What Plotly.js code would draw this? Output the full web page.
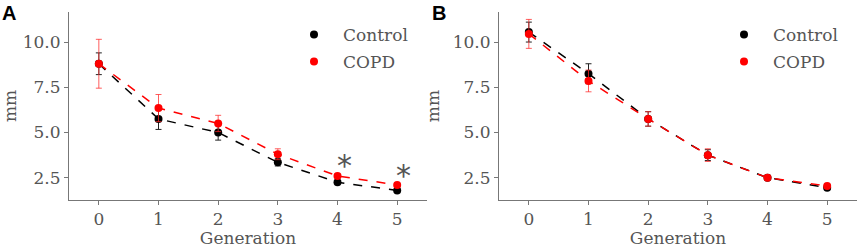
<!DOCTYPE html>
<html>
<head>
<meta charset="utf-8">
<script src="https://cdn.plot.ly/plotly-3.0.1.min.js"></script>
<style>html,body{margin:0;padding:0;background:#fff;}#chart{width:858px;height:248px;}</style>
</head>
<body>
<div id="chart"></div>
<script>
const generations = [0, 1, 2, 3, 4, 5];
// Panel A
const aControl = [8.8, 5.75, 5.0, 3.35, 2.25, 1.8];
const aControlErr = [0.6, 0.58, 0.42, 0.2, 0.1, 0.08];
const aCopd = [8.8, 6.35, 5.5, 3.8, 2.6, 2.1];
const aCopdErr = [1.35, 0.75, 0.45, 0.3, 0.12, 0.1];
// Panel B
const bControl = [10.55, 8.25, 5.75, 3.75, 2.5, 1.95];
const bControlErr = [0.55, 0.55, 0.4, 0.3, 0.1, 0.08];
const bCopd = [10.45, 7.85, 5.75, 3.75, 2.5, 2.05];
const bCopdErr = [0.8, 0.6, 0.4, 0.35, 0.1, 0.08];
const seriesNames = ['Control', 'COPD'];
const starGens = [4, 5];
const starVals = [3.15, 2.65];

const txt = '#555555';
const font = {family: 'DejaVu Serif', size: 17, color: txt};

function pair(xa, ya, y, err, color, errColor, name, legend) {
  return [
    {x: generations, y: y, xaxis: xa, yaxis: ya, mode: 'lines', showlegend: false,
     line: {color: color, width: 1.5, dash: 'dash'}, hoverinfo: 'skip'},
    {x: generations, y: y, xaxis: xa, yaxis: ya, mode: 'markers', name: name, legend: legend,
     marker: {color: color, size: 8},
     error_y: {type: 'data', array: err, visible: true, color: errColor, thickness: 1, width: 3}}
  ];
}

const data = [].concat(
  pair('x', 'y', aControl, aControlErr, '#000000', '#222222', seriesNames[0], 'legend'),
  pair('x', 'y', aCopd, aCopdErr, '#ff0000', 'rgba(255,40,40,0.75)', seriesNames[1], 'legend2'),
  pair('x2', 'y2', bControl, bControlErr, '#000000', '#222222', seriesNames[0], 'legend3'),
  pair('x2', 'y2', bCopd, bCopdErr, '#ff0000', 'rgba(255,40,40,0.75)', seriesNames[1], 'legend4')
);

function xax(domain, anchor) {
  return {domain: domain, anchor: anchor, range: [-0.5, 5.5], tickvals: generations,
    showgrid: false, zeroline: false, showline: true, linecolor: '#777', linewidth: 1,
    ticks: 'outside', ticklen: 4, tickcolor: '#777', tickfont: font,
    title: {text: 'Generation', font: font, standoff: 9}};
}
function yax(anchor) {
  return {domain: [0, 1], anchor: anchor, range: [1.27, 11.66], tickvals: [2.5, 5, 7.5, 10],
    ticktext: ['2.5', '5.0', '7.5', '10.0'],
    showgrid: false, zeroline: false, showline: true, linecolor: '#777', linewidth: 1,
    ticks: 'outside', ticklen: 4, tickcolor: '#777', tickfont: font,
    title: {text: 'mm', font: font, standoff: 8}};
}

// legend placement in pixels relative to plot area (left=69, top=12, width=788, height=188)
function lg(px, py) {
  return {font: font, bgcolor: 'rgba(0,0,0,0)', xanchor: 'left', yanchor: 'middle', itemwidth: 48,
    x: (px - 69) / 788, y: 1 - (py - 12) / 188};
}

const annotations = [
  {text: '<b>A</b>', xref: 'paper', yref: 'paper', x: -69/788, y: 1 + 12/188, xanchor: 'left', yanchor: 'top',
   showarrow: false, font: {family: 'Liberation Sans', size: 20, color: '#000'}},
  {text: '<b>B</b>', xref: 'paper', yref: 'paper', x: (430-69)/788, y: 1 + 12/188, xanchor: 'left', yanchor: 'top',
   showarrow: false, font: {family: 'Liberation Sans', size: 20, color: '#000'}}
];
starGens.forEach((g, i) => {
  annotations.push({text: '*', xref: 'x', yref: 'y', x: g + 0.11, y: starVals[i], showarrow: false,
    xanchor: 'center', yanchor: 'middle', font: {family: 'DejaVu Sans', size: 30, color: txt}});
});

const layout = {
  width: 858, height: 248,
  margin: {l: 69, r: 1, t: 12, b: 48},
  paper_bgcolor: '#fff', plot_bgcolor: '#fff',
  xaxis: xax([0, 358/788], 'y'),
  yaxis: yax('x'),
  xaxis2: xax([430/788, 1], 'y2'),
  yaxis2: yax('x2'),
  legend: lg(285, 35),
  legend2: lg(285, 62),
  legend3: lg(715, 35),
  legend4: lg(715, 62),
  annotations: annotations
};

Plotly.newPlot('chart', data, layout, {displayModeBar: false, staticPlot: true});
</script>
</body>
</html>
